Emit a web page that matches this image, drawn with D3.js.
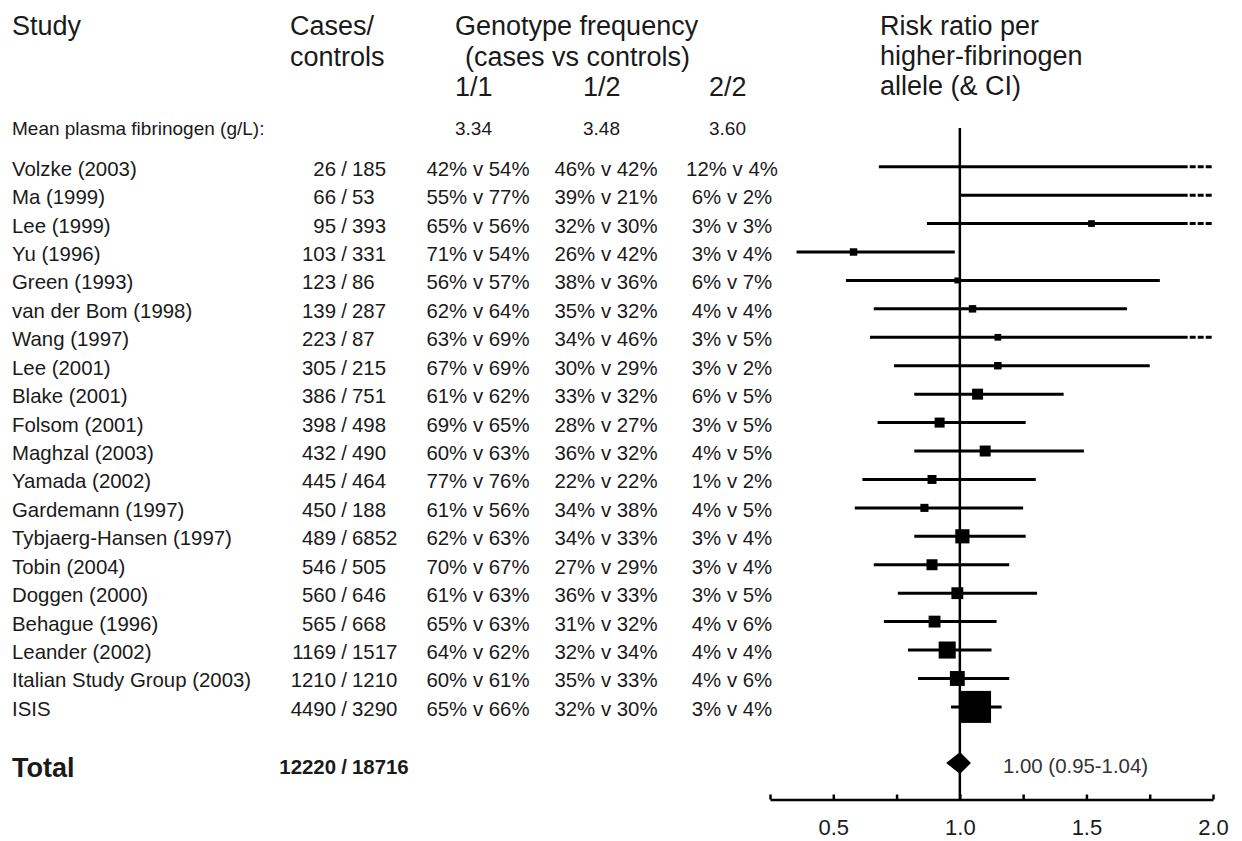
<!doctype html>
<html>
  <head>
    <script src="https://cdnjs.cloudflare.com/ajax/libs/d3/7.8.5/d3.min.js"></script>
  <style>
    body { margin: 0; background: #fff; }
    svg { font-family: "Liberation Sans", Arial, sans-serif; fill: #1a1a1a; }
    .axis path.domain, .axis line { stroke: #000; stroke-width: 2.5; }
    .axis text { font-size: 22px; font-family: "Liberation Sans", Arial, sans-serif; fill: #1a1a1a; }
  </style>
  </head>
  <body>
    <svg id="chart" width="1242" height="841"></svg>
    <script>
      var studies = ["Volzke (2003)", "Ma (1999)", "Lee (1999)", "Yu (1996)", "Green (1993)",
        "van der Bom (1998)", "Wang (1997)", "Lee (2001)", "Blake (2001)", "Folsom (2001)",
        "Maghzal (2003)", "Yamada (2002)", "Gardemann (1997)", "Tybjaerg-Hansen (1997)",
        "Tobin (2004)", "Doggen (2000)", "Behague (1996)", "Leander (2002)",
        "Italian Study Group (2003)", "ISIS"];
      var cases = [26, 66, 95, 103, 123, 139, 223, 305, 386, 398, 432, 445, 450, 489, 546, 560, 565, 1169, 1210, 4490];
      var controls = [185, 53, 393, 331, 86, 287, 87, 215, 751, 498, 490, 464, 188, 6852, 505, 646, 668, 1517, 1210, 3290];
      // genotype frequency, [cases, controls] in %
      var g11 = [[42,54],[55,77],[65,56],[71,54],[56,57],[62,64],[63,69],[67,69],[61,62],[69,65],
                 [60,63],[77,76],[61,56],[62,63],[70,67],[61,63],[65,63],[64,62],[60,61],[65,66]];
      var g12 = [[46,42],[39,21],[32,30],[26,42],[38,36],[35,32],[34,46],[30,29],[33,32],[28,27],
                 [36,32],[22,22],[34,38],[34,33],[27,29],[36,33],[31,32],[32,34],[35,33],[32,30]];
      var g22 = [[12,4],[6,2],[3,3],[3,4],[6,7],[4,4],[3,5],[3,2],[6,5],[3,5],
                 [4,5],[1,2],[4,5],[3,4],[3,4],[3,5],[4,6],[4,4],[4,6],[3,4]];
      var genotypes = ["1/1", "1/2", "2/2"];
      var meanFibrinogen = ["3.34", "3.48", "3.60"];
      // risk ratio per higher-fibrinogen allele
      var rr   = [2.3, 2.6, 1.52, 0.58, 0.99, 1.05, 1.15, 1.15, 1.07, 0.92, 1.10, 0.89, 0.86, 1.01, 0.89, 0.99, 0.90, 0.95, 0.99, 1.06];
      var rrLo = [0.68, 1.00, 0.87, 0.355, 0.55, 0.66, 0.645, 0.74, 0.82, 0.675, 0.82, 0.615, 0.585, 0.82, 0.66, 0.755, 0.70, 0.795, 0.835, 0.965];
      var rrHi = [3.9, 5.2, 2.6, 0.98, 1.79, 1.66, 2.3, 1.75, 1.41, 1.26, 1.49, 1.30, 1.25, 1.26, 1.195, 1.305, 1.145, 1.125, 1.195, 1.165];
      var weight = [0.4, 0.4, 0.45, 0.55, 0.35, 0.55, 0.45, 0.55, 1.2, 1.0, 1.2, 0.8, 0.65, 2.0, 1.2, 1.4, 1.4, 2.9, 2.2, 10.2];
      var total = {est: 1.00, lo: 0.95, hi: 1.04};
      var ticks = [0.25, 0.5, 0.75, 1.0, 1.25, 1.5, 1.75, 2.0];
      var tickLabels = [0.5, 1.0, 1.5, 2.0];

      var rows = studies.map(function(s, i) {
        return {study: s, cases: cases[i], controls: controls[i], g: [g11[i], g12[i], g22[i]],
                rr: rr[i], lo: rrLo[i], hi: rrHi[i], w: weight[i]};
      });

      var svg = d3.select("#chart");
      var x = d3.scaleLinear().domain([0.25, 2.0]).range([770, 1213]);
      var y = d3.scalePoint().domain(studies).range([166.7, 706.9]);
      var size = d3.scaleSqrt().domain([0, d3.max(weight)]).range([0, 32]);
      var colX = [478, 606, 732];
      var dashFrom = 1.9;

      // headers
      var head = svg.append("g").style("font-size", "27px");
      head.append("text").attr("x", 12).attr("y", 35).text("Study");
      head.append("text").attr("x", 290).attr("y", 35).text("Cases/");
      head.append("text").attr("x", 290).attr("y", 65.5).text("controls");
      head.append("text").attr("x", 455).attr("y", 35).text("Genotype frequency");
      head.append("text").attr("x", 465).attr("y", 65.5).text("(cases vs controls)");
      head.selectAll("text.gt").data(genotypes).enter().append("text")
        .attr("class", "gt").attr("x", (d, i) => colX[i] - 23).attr("y", 96).text(d => d);
      ["Risk ratio per", "higher-fibrinogen", "allele (& CI)"].forEach(function(t, i) {
        head.append("text").attr("x", 880).attr("y", 35 + i * 30).text(t);
      });

      var mean = svg.append("g").style("font-size", "19px");
      mean.append("text").attr("x", 12).attr("y", 135).text("Mean plasma fibrinogen (g/L):");
      mean.selectAll("text.mf").data(meanFibrinogen).enter().append("text")
        .attr("class", "mf").attr("x", (d, i) => colX[i] - 23).attr("y", 135).text(d => d);

      // table rows
      var body = svg.append("g").style("font-size", "20.4px");
      var row = body.selectAll("g.row").data(rows).enter().append("g")
        .attr("class", "row").attr("transform", d => "translate(0," + (y(d.study) + 9) + ")");
      row.append("text").attr("x", 12).text(d => d.study);
      row.append("text").attr("x", 336).attr("text-anchor", "end").text(d => d.cases);
      row.append("text").attr("x", 344).attr("text-anchor", "middle").text("/");
      row.append("text").attr("x", 352).text(d => d.controls);
      genotypes.forEach(function(g, k) {
        row.append("text").attr("x", colX[k]).attr("text-anchor", "middle")
          .text(d => d.g[k][0] + "% v " + d.g[k][1] + "%");
      });

      // reference line at 1.0
      svg.append("line")
        .attr("x1", x(1)).attr("x2", x(1)).attr("y1", 128).attr("y2", 799)
        .attr("stroke", "#000").attr("stroke-width", 2.5);

      // confidence intervals
      var ci = svg.append("g");
      ci.selectAll("line.ci").data(rows).enter().append("line")
        .attr("class", "ci")
        .attr("x1", d => x(Math.max(d.lo, 0.25)))
        .attr("x2", d => x(Math.min(d.hi, dashFrom)))
        .attr("y1", d => y(d.study)).attr("y2", d => y(d.study))
        .attr("stroke", "#000").attr("stroke-width", 3);
      ci.selectAll("line.more").data(rows.filter(d => d.hi > 2.0)).enter().append("line")
        .attr("class", "more")
        .attr("x1", x(dashFrom) + 2).attr("x2", x(2.0))
        .attr("y1", d => y(d.study)).attr("y2", d => y(d.study))
        .attr("stroke", "#000").attr("stroke-width", 3).attr("stroke-dasharray", "6,2");

      // point estimates, area by weight
      ci.selectAll("rect.pt").data(rows.filter(d => d.rr <= 2.0)).enter().append("rect")
        .attr("class", "pt")
        .attr("x", d => x(d.rr) - size(d.w) / 2)
        .attr("y", d => y(d.study) - size(d.w) / 2)
        .attr("width", d => size(d.w)).attr("height", d => size(d.w))
        .attr("fill", "#000");

      // total
      var yTotal = 763;
      svg.append("text").attr("x", 12).attr("y", 776.5)
        .style("font-size", "27px").style("font-weight", "bold").text("Total");
      var tot = svg.append("g").style("font-size", "20.4px").style("font-weight", "bold");
      tot.append("text").attr("x", 336).attr("y", 773.5).attr("text-anchor", "end").text(d3.sum(cases));
      tot.append("text").attr("x", 344).attr("y", 773.5).attr("text-anchor", "middle").text("/");
      tot.append("text").attr("x", 352).attr("y", 773.5).text(d3.sum(controls));

      svg.append("path")
        .attr("d", "M" + x(total.lo) + "," + yTotal + "L" + x(total.est) + "," + (yTotal - 10) +
                   "L" + x(total.hi) + "," + yTotal + "L" + x(total.est) + "," + (yTotal + 10) + "Z")
        .attr("fill", "#000").attr("stroke", "#000").attr("stroke-width", 1.5).attr("stroke-linejoin", "round");
      svg.append("text").attr("x", 1003).attr("y", 773)
        .style("font-size", "20.4px").style("fill", "#333")
        .text(d3.format(".2f")(total.est) + " (" + d3.format(".2f")(total.lo) + "-" + d3.format(".2f")(total.hi) + ")");

      // axis
      var xAxis = d3.axisBottom(x)
        .tickValues(ticks)
        .tickSizeInner(-5)
        .tickSizeOuter(0)
        .tickPadding(20)
        .tickFormat(d => tickLabels.indexOf(d) >= 0 ? d3.format(".1f")(d) : "");
      svg.append("g").attr("class", "axis")
        .attr("transform", "translate(0,799.5)").call(xAxis);
    </script>
  </body>
</html>
